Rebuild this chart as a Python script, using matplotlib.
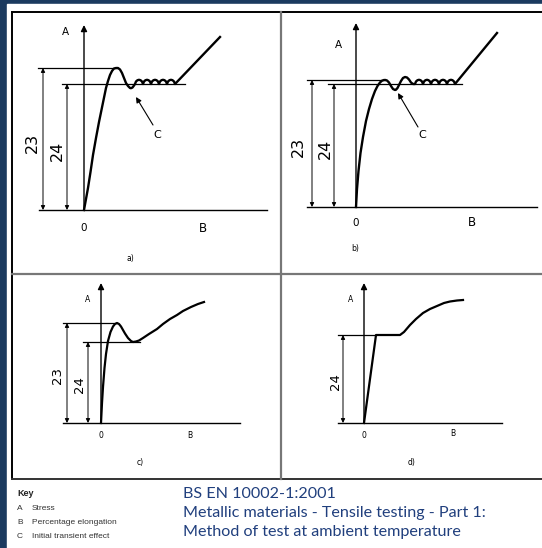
import matplotlib
matplotlib.use("Agg")
import matplotlib.pyplot as plt

W, H = 542, 548
NAVY = "#1b3a5f"
TITLE_BLUE = "#203f7d"

# ---- panel a) : upper yield then transient dip + serrations, then hardening
a_x = [0, 2, 4, 6.5, 9, 12, 15, 18.5, 22, 24, 26, 28, 30, 32, 34, 36, 38, 40, 42, 44, 46, 47,
       48.5, 50, 51,
       52, 53.5, 55, 56.5, 58, 59, 60, 61.5, 63, 64.5, 66, 67, 68, 69.5, 71, 72.5, 74, 75,
       76, 77.5, 79, 80.5, 82, 83, 84, 85.5, 87, 88.5, 90, 91, 136]
a_y = [0, 11, 22, 38, 55, 72, 88, 105, 122, 129, 135, 139, 141.5, 142, 142, 140.5, 137, 132,
       127, 124, 122, 121.8, 122.5, 124.5, 126,
       128.5, 129.8, 130.2, 129.8, 128.5, 126, 128.5, 129.8, 130.2, 129.8, 128.5, 126,
       128.5, 129.8, 130.2, 129.8, 128.5, 126, 128.5, 129.8, 130.2, 129.8, 128.5, 126,
       128.5, 129.8, 130.2, 129.8, 128.5, 126, 173]
a_upper, a_lower = 142, 126

# ---- panel b)
b_x = [0, 1, 2.5, 4.5, 7, 10, 13, 16, 19, 21.5, 24, 26, 28, 29.5, 31, 33, 35, 37, 39, 40,
       41.5, 43, 45, 47, 49, 51, 53, 55, 57, 59,
       60, 61.5, 63, 64.5, 66, 67, 68, 69.5, 71, 72.5, 74, 75, 76, 77.5, 79, 80.5, 82, 83,
       84, 85.5, 87, 88.5, 90, 91, 92, 93.5, 95, 96.5, 98, 99, 141]
b_y = [0, 18, 36, 54, 70, 86, 98, 108, 116, 121, 124.5, 126.3, 127, 127, 126.5, 124.5, 121,
       118, 117, 117.3, 119, 122, 126, 129, 130, 129.5, 127.5, 124.5, 123, 123,
       125.5, 126.8, 127.2, 126.8, 125.5, 123, 125.5, 126.8, 127.2, 126.8, 125.5, 123,
       125.5, 126.8, 127.2, 126.8, 125.5, 123, 125.5, 126.8, 127.2, 126.8, 125.5, 123,
       125.5, 126.8, 127.2, 126.8, 125.5, 123, 174]
b_upper, b_lower = 127, 123

# ---- panel c)
c_x = [0, 1, 2, 3.5, 5, 7, 9.5, 12, 14, 16, 18, 20, 22, 24, 27, 30, 32, 35, 38, 42, 48,
       56, 62, 69, 76, 82, 90, 97, 103]
c_y = [0, 20, 36, 55, 69, 82, 91, 96.5, 99, 100, 99, 96.5, 93, 89.5, 85, 82, 81, 81.5, 82.5,
       85, 89, 94, 99, 104, 108, 112, 116, 119, 121]
c_upper, c_lower = 100, 81

# ---- panel d)
d_x = [0, 12, 36, 40, 46, 52, 59, 66, 73, 80, 86, 93, 99]
d_y = [0, 88, 88, 91, 98, 104, 110, 114, 117, 120, 121.5, 122.5, 123]
d_lower = 88

key_letters = ["A", "B", "C"]
key_texts = ["Stress", "Percentage elongation", "Initial transient effect"]
title_lines = ["BS EN 10002-1:2001",
               "Metallic materials - Tensile testing - Part 1:",
               "Method of test at ambient temperature"]

fig = plt.figure(figsize=(W / 100, H / 100), dpi=100, facecolor=NAVY)

# background in pixel coords
bg = fig.add_axes([0, 0, 1, 1])
bg.set_xlim(0, W)
bg.set_ylim(H, 0)
bg.axis("off")
bg.add_patch(plt.Rectangle((7, 4), W - 7, H - 4, color="white", zorder=0))
bg.plot([12, W], [12, 12], color="black", lw=1.4)
bg.plot([12, 12], [12, 479], color="black", lw=1.4)
bg.plot([12, W], [479, 479], color="#333333", lw=1.4)
bg.plot([281, 281], [12, 479], color="#777777", lw=1.6)
bg.plot([12, W], [274, 274], color="#777777", lw=1.6)


def panel(left, top, right, bottom, ox, oy):
    ax = fig.add_axes([left / W, 1 - bottom / H, (right - left) / W, (bottom - top) / H])
    ax.set_xlim(left - ox, right - ox)
    ax.set_ylim(oy - bottom, oy - top)
    ax.axis("off")
    return ax


def axes_arrows(ax, base_x0, base_x1, ytop):
    ax.plot([base_x0, base_x1], [0, 0], color="black", lw=1.0)
    ax.annotate("", xy=(0, ytop), xytext=(0, 0),
                arrowprops=dict(arrowstyle="-|>", color="black", lw=1.0,
                                mutation_scale=9, shrinkA=0, shrinkB=0))


def dim(ax, x, yv, label, lx, fs):
    ax.annotate("", xy=(x, yv), xytext=(x, 0),
                arrowprops=dict(arrowstyle="<|-|>", color="black", lw=0.7,
                                mutation_scale=6, shrinkA=0, shrinkB=0))
    ax.text(lx, yv * 0.47, label, rotation=90, ha="center", va="center", fontsize=fs)


def leader(ax, tip, start, pos):
    ax.annotate("", xy=tip, xytext=start,
                arrowprops=dict(arrowstyle="-|>", color="black", lw=0.8,
                                mutation_scale=8, shrinkA=0, shrinkB=0))
    ax.text(pos[0], pos[1], "C", ha="center", va="center", fontsize=8)


# a)
ax = panel(12, 12, 281, 274, 84, 210)
axes_arrows(ax, -45, 183, 185)
ax.plot([-46, 33], [a_upper, a_upper], color="black", lw=0.9)
ax.plot([-22, 101], [a_lower, a_lower], color="black", lw=0.9)
ax.plot(a_x, a_y, color="black", lw=1.7)
dim(ax, -41, a_upper, "23", -52, 11.5)
dim(ax, -17, a_lower, "24", -27, 11.5)
leader(ax, (52, 113), (69, 85), (73, 75))
ax.text(-19, 178, "A", ha="center", va="center", fontsize=7.5)
ax.text(0, -18, "0", ha="center", va="center", fontsize=7.5)
ax.text(119, -18, "B", ha="center", va="center", fontsize=8.5)
ax.text(46, -48, "a)", ha="center", va="center", fontsize=5.5)

# b)
ax = panel(281, 12, W, 274, 356, 207)
axes_arrows(ax, -49, 181, 184)
ax.plot([-49, 29], [b_upper, b_upper], color="black", lw=0.9)
ax.plot([-28, 106], [b_lower, b_lower], color="black", lw=0.9)
ax.plot(b_x, b_y, color="black", lw=1.7)
dim(ax, -44, b_upper, "23", -58, 11.5)
dim(ax, -22, b_lower, "24", -31, 11.5)
leader(ax, (42, 114), (62, 80), (66, 72))
ax.text(-18, 162, "A", ha="center", va="center", fontsize=7.5)
ax.text(0, -16, "0", ha="center", va="center", fontsize=7.5)
ax.text(116, -16, "B", ha="center", va="center", fontsize=8.5)
ax.text(-1, -41, "b)", ha="center", va="center", fontsize=5.5)

# c)
ax = panel(12, 274, 281, 479, 101, 423)
axes_arrows(ax, -38, 139, 140)
ax.plot([-38, 16], [c_upper, c_upper], color="black", lw=0.9)
ax.plot([-18, 39], [c_lower, c_lower], color="black", lw=0.9)
ax.plot(c_x, c_y, color="black", lw=1.6)
dim(ax, -34, c_upper, "23", -44, 9.5)
dim(ax, -13, c_lower, "24", -21, 9.5)
ax.text(-13, 124, "A", ha="center", va="center", fontsize=5.5)
ax.text(0, -13, "0", ha="center", va="center", fontsize=5.5)
ax.text(89, -13, "B", ha="center", va="center", fontsize=5.5)
ax.text(39, -40, "c)", ha="center", va="center", fontsize=5.5)

# d)
ax = panel(281, 274, W, 479, 364, 423)
axes_arrows(ax, -26, 138, 140)
ax.plot([-26, 12], [d_lower, d_lower], color="black", lw=0.9)
ax.plot(d_x, d_y, color="black", lw=1.6)
dim(ax, -21, d_lower, "24", -29, 9.5)
ax.text(-13, 124, "A", ha="center", va="center", fontsize=5.5)
ax.text(0, -13, "0", ha="center", va="center", fontsize=5.5)
ax.text(89, -11, "B", ha="center", va="center", fontsize=5.5)
ax.text(48, -39, "d)", ha="center", va="center", fontsize=5.5)

# key
fig.text(17 / W, 1 - 493 / H, "Key", fontsize=6.5, fontweight="bold",
         color="#222222", va="center", family="Liberation Sans")
for i, (k, t) in enumerate(zip(key_letters, key_texts)):
    yy = 1 - (509 + 13.5 * i) / H
    fig.text(17 / W, yy, k, fontsize=6, color="#333333", va="center", family="Liberation Sans")
    fig.text(32 / W, yy, t, fontsize=6, color="#333333", va="center", family="Liberation Sans")

# title block
for i, line in enumerate(title_lines):
    fig.text(183 / W, 1 - (494 + 19 * i) / H, line, fontsize=11.6, color=TITLE_BLUE,
             va="center", family="Lato")

fig.savefig("out.png", dpi=100, facecolor=NAVY)
